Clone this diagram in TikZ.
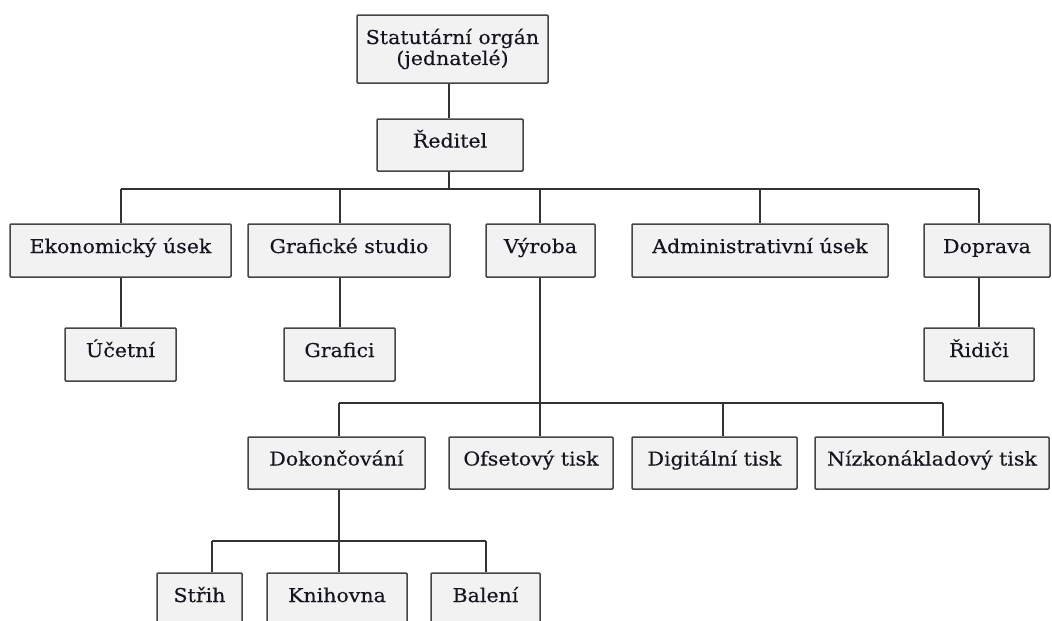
\documentclass[tikz,border=0pt]{standalone}
\usepackage{fontspec}
\setmainfont{DejaVu Serif}[FakeStretch=1.08, FakeBold=0.4]
\definecolor{boxfill}{HTML}{F2F2F2}
\definecolor{boxline}{HTML}{454545}
\definecolor{wire}{HTML}{333333}
\definecolor{txt}{HTML}{15151F}
\begin{document}
\begin{tikzpicture}[x=1pt,y=-1pt,
  orgbox/.style={draw=boxline, line width=1.5pt, fill=boxfill, rounded corners=1pt,
    minimum height=53pt, inner sep=0pt, text=txt, text height=14pt, text depth=9pt,
    font=\fontsize{19}{21}\selectfont},
  wireline/.style={draw=wire, line width=1.4pt}]
\clip (0,0) rectangle (1052,621);
\fill[white] (0,0) rectangle (1052,621);
% level 0/1
\node[orgbox, minimum width=191pt, minimum height=68pt, text height=, text depth=, align=center] (stat) at (452.5,49) {Statutární orgán\\(jednatelé)};
\node[orgbox, minimum width=146pt, minimum height=52pt] (red) at (450,145) {Ředitel};
% level 2
\node[orgbox, minimum width=221pt] (eko) at (120.5,250.5) {Ekonomický úsek};
\node[orgbox, minimum width=202pt] (graf) at (349,250.5) {Grafické studio};
\node[orgbox, minimum width=109pt] (vyr) at (540.5,250.5) {Výroba};
\node[orgbox, minimum width=256pt] (adm) at (760,250.5) {Administrativní úsek};
\node[orgbox, minimum width=126pt] (dop) at (987,250.5) {Doprava};
% level 3
\node[orgbox, minimum width=111pt] (uc) at (120.5,354.5) {Účetní};
\node[orgbox, minimum width=111pt] (grc) at (339.5,354.5) {Grafici};
\node[orgbox, minimum width=110pt] (rid) at (979,354.5) {Řidiči};
% level 4
\node[orgbox, minimum width=177pt, minimum height=52pt] (dok) at (336.5,463) {Dokončování};
\node[orgbox, minimum width=164pt, minimum height=52pt] (ofs) at (531,463) {Ofsetový tisk};
\node[orgbox, minimum width=165pt, minimum height=52pt] (dig) at (714.5,463) {Digitální tisk};
\node[orgbox, minimum width=234pt, minimum height=52pt] (niz) at (932,463) {Nízkonákladový tisk};
% level 5
\node[orgbox, minimum width=85pt] (str) at (199.5,599.5) {Střih};
\node[orgbox, minimum width=140pt] (kni) at (337,599.5) {Knihovna};
\node[orgbox, minimum width=109pt] (bal) at (485.5,599.5) {Balení};
% bus coordinates
\coordinate (b1) at (449,189);
\coordinate (b1l) at (121,189);
\coordinate (b1g) at (340,189);
\coordinate (b1v) at (540,189);
\coordinate (b1a) at (760,189);
\coordinate (b1r) at (979,189);
\coordinate (b2) at (540,403);
\coordinate (b2l) at (339,403);
\coordinate (b2d) at (723,403);
\coordinate (b2r) at (943,403);
\coordinate (b3) at (339,541);
\coordinate (b3l) at (212,541);
\coordinate (b3r) at (486,541);
% connectors
\draw[wireline] (b1 |- stat.south) -- (b1 |- red.north);
\draw[wireline] (b1 |- red.south) -- (b1);
\draw[wireline] (b1l) -- (b1r);
\draw[wireline] (b1l) -- (b1l |- eko.north);
\draw[wireline] (b1g) -- (b1g |- graf.north);
\draw[wireline] (b1v) -- (b1v |- vyr.north);
\draw[wireline] (b1a) -- (b1a |- adm.north);
\draw[wireline] (b1r) -- (b1r |- dop.north);
\draw[wireline] (b1l |- eko.south) -- (b1l |- uc.north);
\draw[wireline] (b1g |- graf.south) -- (b1g |- grc.north);
\draw[wireline] (b1r |- dop.south) -- (b1r |- rid.north);
\draw[wireline] (b2 |- vyr.south) -- (b2 |- ofs.north);
\draw[wireline] (b2l) -- (b2r);
\draw[wireline] (b2l) -- (b2l |- dok.north);
\draw[wireline] (b2d) -- (b2d |- dig.north);
\draw[wireline] (b2r) -- (b2r |- niz.north);
\draw[wireline] (b3 |- dok.south) -- (b3 |- kni.north);
\draw[wireline] (b3l) -- (b3r);
\draw[wireline] (b3l) -- (b3l |- str.north);
\draw[wireline] (b3r) -- (b3r |- bal.north);
\end{tikzpicture}
\end{document}
